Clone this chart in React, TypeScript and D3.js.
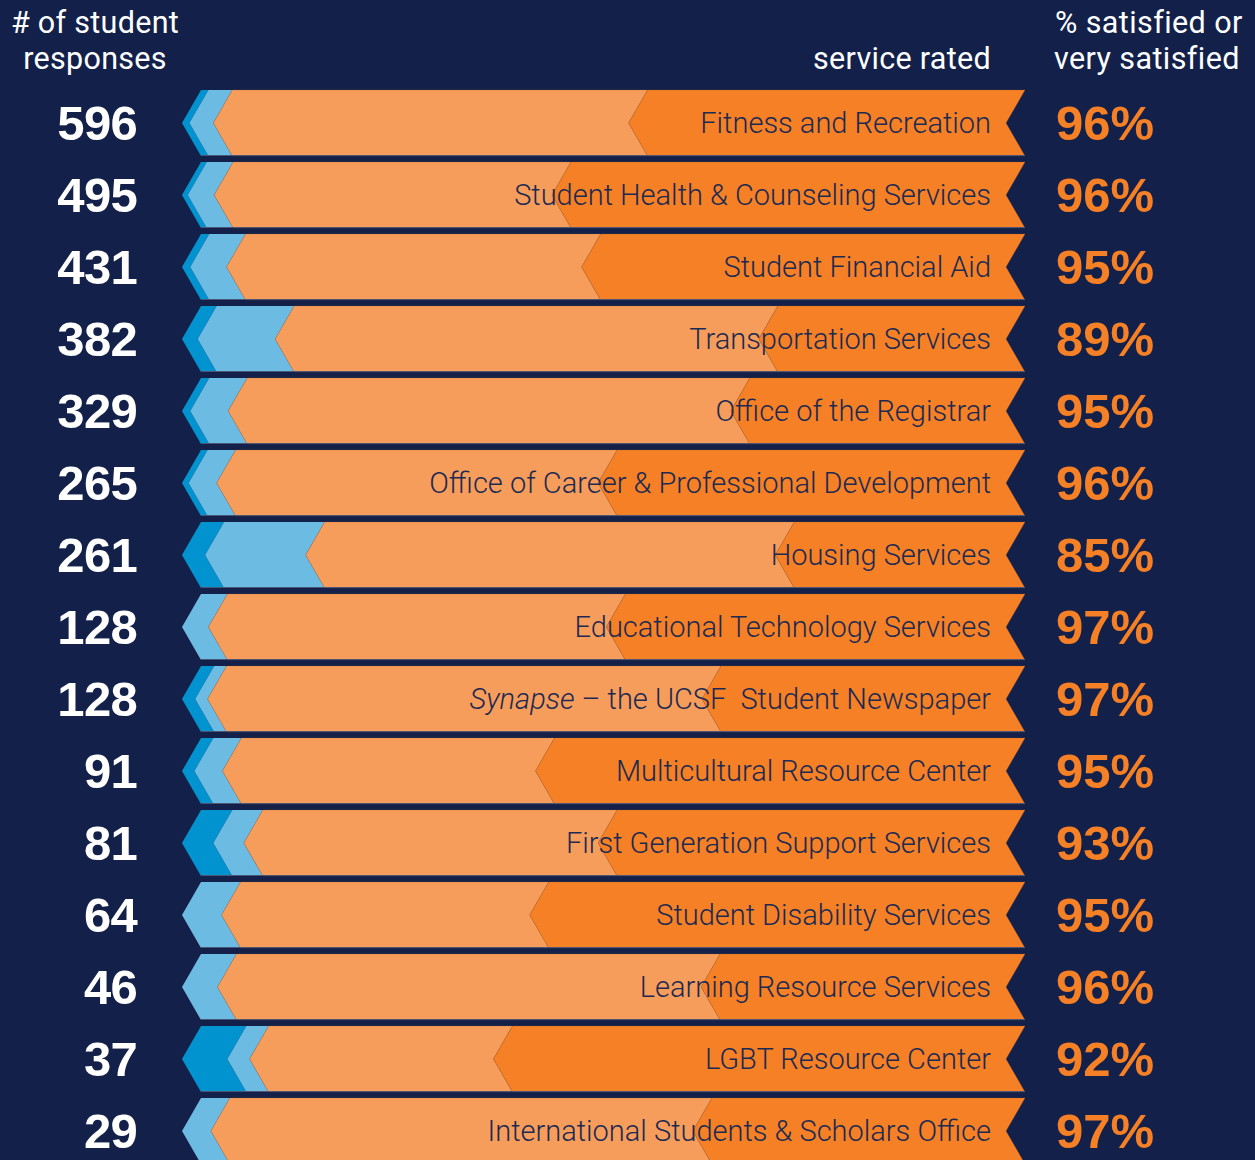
import React from "react";
import * as d3 from "d3";

const services = [
  "Fitness and Recreation",
  "Student Health & Counseling Services",
  "Student Financial Aid",
  "Transportation Services",
  "Office of the Registrar",
  "Office of Career & Professional Development",
  "Housing Services",
  "Educational Technology Services",
  "SYNAPSE",
  "Multicultural Resource Center",
  "First Generation Support Services",
  "Student Disability Services",
  "Learning Resource Services",
  "LGBT Resource Center",
  "International Students & Scholars Office",
];
const responses = [596, 495, 431, 382, 329, 265, 261, 128, 128, 91, 81, 64, 46, 37, 29];
const satisfiedLabel = ["96%", "96%", "95%", "89%", "95%", "96%", "85%", "97%", "97%", "95%", "93%", "95%", "96%", "92%", "97%"];
const veryDissatisfied = [0.9, 0.7, 1, 1.9, 1, 0.8, 2.8, 0, 1.6, 1.5, 3.8, 0, 0, 5.5, 0];
const dissatisfied = [2.9, 3.2, 4.4, 9.4, 4.6, 3.4, 12.2, 3.2, 1.5, 3.4, 3.7, 4.8, 4.3, 2.7, 3.5];
const satisfied = [50.4, 41, 43.1, 58.7, 61, 46.3, 57, 48.3, 60, 38, 43, 37.4, 58.7, 29.6, 58.5];
const verySatisfied = [45.8, 55.1, 51.5, 30, 33.4, 49.5, 28, 48.5, 36.9, 57.1, 49.5, 57.8, 37, 62.2, 38];

const levelColors = ["#0093D0", "#6CBBE3", "#F79D5B", "#F58025"];
const BG = "#13214A";
const TEXT_NAVY = "#1B2A52";

const W = 1255;
const H = 1160;
const DEPTH = 19;

export default function App() {
  const x = d3.scaleLinear().domain([0, 100]).range([182, 1006]);
  const y = d3
    .scaleBand<number>()
    .domain(d3.range(services.length))
    .range([90, 90 + 72 * services.length - 6])
    .paddingInner(1 / 12)
    .paddingOuter(0);
  const bw = y.bandwidth();

  const seg = (a: number, b: number, top: number) => {
    const mid = top + bw / 2;
    const bot = top + bw;
    const xa = x(a);
    const xb = x(b);
    const p = d3.path();
    p.moveTo(xa + DEPTH, top);
    p.lineTo(xb + DEPTH, top);
    p.lineTo(xb, mid);
    p.lineTo(xb + DEPTH, bot);
    p.lineTo(xa + DEPTH, bot);
    p.lineTo(xa, mid);
    p.closePath();
    return p.toString();
  };

  const font = "'Liberation Sans', Arial, Helvetica, sans-serif";
  const lightFont = "Roboto, 'Liberation Sans', sans-serif";

  return (
    <svg
      width={W}
      height={H}
      style={{ position: "absolute", left: 0, top: 0, display: "block" }}
    >
      <rect x={0} y={0} width={W} height={H} fill={BG} />
      <g fontFamily={lightFont} fontWeight={400} fontSize={30.5} fill="#FFFFFF">
        <text x={95} y={33} textAnchor="middle" letterSpacing={0.3}>
          # of student
        </text>
        <text x={95} y={69} textAnchor="middle" letterSpacing={0.3}>
          responses
        </text>
        <text x={991} y={69} textAnchor="end" letterSpacing={0.3}>
          service rated
        </text>
        <text x={1055} y={33} letterSpacing={0.4}>% satisfied or</text>
        <text x={1054} y={69} letterSpacing={0.4}>very satisfied</text>
      </g>
      {services.map((s, i) => {
        const top = y(i) as number;
        const mid = top + bw / 2;
        const vals = [veryDissatisfied[i], dissatisfied[i], satisfied[i], verySatisfied[i]];
        const cum = d3.cumsum(vals);
        const starts = [0, ...Array.from(cum).slice(0, 3)];
        return (
          <g key={i}>
            {vals.map((v, k) =>
              v > 0 ? (
                <path
                  key={k}
                  d={seg(starts[k], k === 3 ? 100 : cum[k], top)}
                  fill={levelColors[k]}
                  stroke={k >= 2 ? "rgba(170,95,40,0.35)" : "none"}
                  strokeWidth={0.6}
                />
              ) : null
            )}
            <line
              x1={x(0) + DEPTH}
              x2={x(100) + DEPTH}
              y1={top + bw - 0.5}
              y2={top + bw - 0.5}
              stroke="#4B5677"
              strokeWidth={1}
            />
            <text
              x={137}
              y={mid + 17}
              textAnchor="end"
              fontFamily={font}
              fontWeight={700}
              fontSize={49}
              letterSpacing={-0.7}
              fill="#FFFFFF"
            >
              {responses[i]}
            </text>
            <text
              x={991}
              y={mid + 10}
              textAnchor="end"
              fontFamily={lightFont}
              fontWeight={300}
              fontSize={29}
              fill={TEXT_NAVY}
            >
              {s === "SYNAPSE" ? (
                <>
                  <tspan fontStyle="italic">Synapse</tspan>
                  <tspan>{" \u2013 the UCSF\u00A0 Student Newspaper"}</tspan>
                </>
              ) : (
                s
              )}
            </text>
            <text
              x={1056}
              y={mid + 17}
              fontFamily={font}
              fontWeight={700}
              fontSize={49}
              letterSpacing={0}
              fill="#F58025"
            >
              {satisfiedLabel[i]}
            </text>
          </g>
        );
      })}
    </svg>
  );
}
